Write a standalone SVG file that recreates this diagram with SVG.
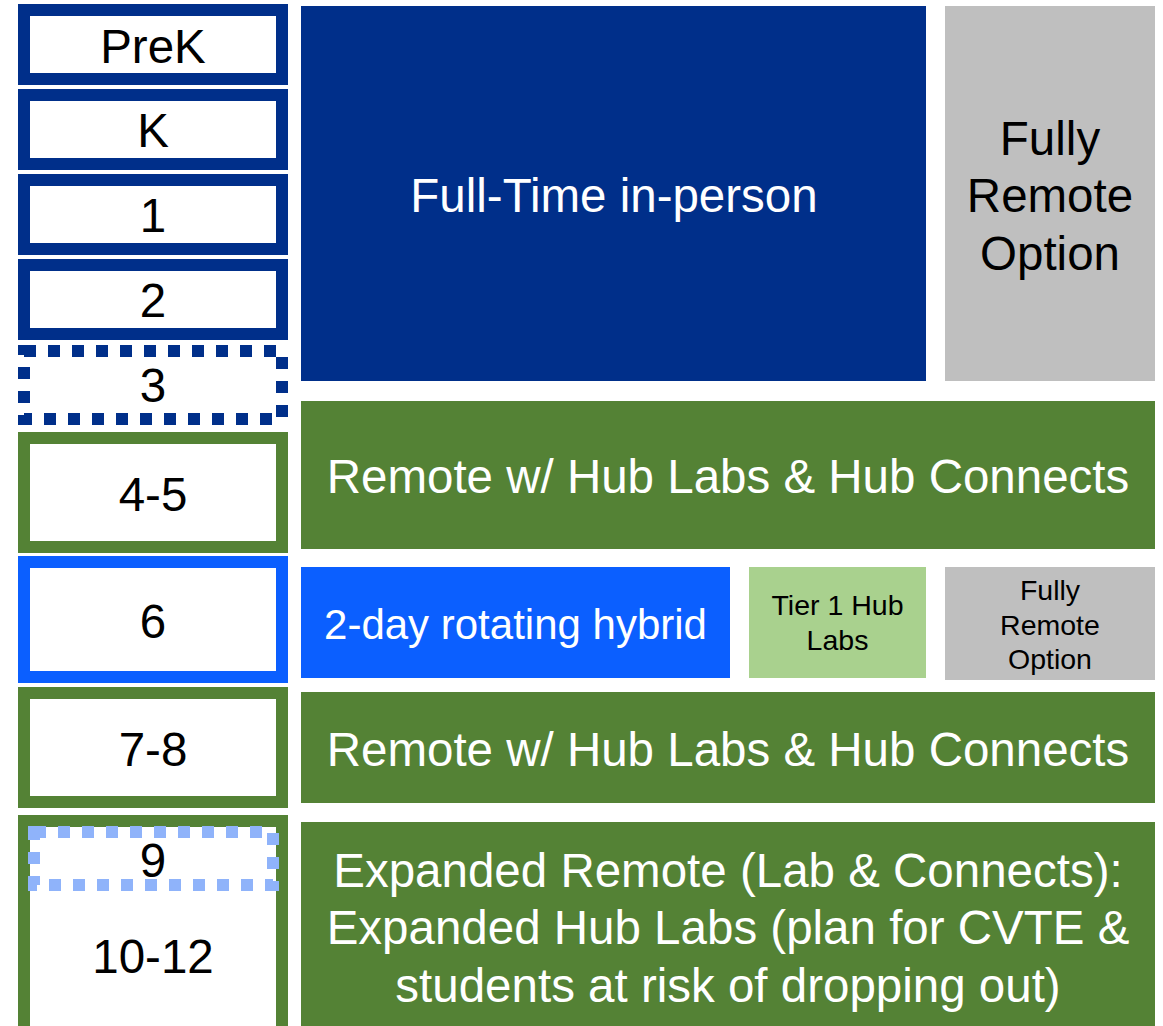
<svg xmlns="http://www.w3.org/2000/svg" width="1163" height="1026" viewBox="0 0 1163 1026">
<style>
.t{font-family:"Liberation Sans",Arial,sans-serif;text-anchor:middle}
.big{font-size:47.5px}
.mid{font-size:42px}
.sm{font-size:28.5px}
.w{fill:#ffffff}
.k{fill:#000000}
.gb{fill:#ffffff;stroke-width:12}
.navy{stroke:#002F8A}
.green{stroke:#548235}
.bright{stroke:#0B5FFF}
.dot{fill:none;stroke-width:12;stroke-dasharray:12 12}
</style>
<rect width="1163" height="1026" fill="#ffffff"/>
<g id="grade-prek"><rect class="gb navy" x="24" y="10" width="258" height="69"/><text class="t big k" x="153" y="63">PreK</text></g>
<g id="grade-k"><rect class="gb navy" x="24" y="95" width="258" height="69"/><text class="t big k" x="153" y="147">K</text></g>
<g id="grade-1"><rect class="gb navy" x="24" y="180" width="258" height="69"/><text class="t big k" x="153" y="232">1</text></g>
<g id="grade-2"><rect class="gb navy" x="24" y="265" width="258" height="69"/><text class="t big k" x="153" y="317">2</text></g>
<g id="grade-3"><rect class="dot navy" x="24" y="351" width="258" height="68" stroke-dashoffset="0"/><text class="t big k" x="153" y="402">3</text></g>
<g id="grade-4-5"><rect class="gb green" x="24" y="438" width="258" height="109"/><text class="t big k" x="153" y="511">4-5</text></g>
<g id="grade-6"><rect class="gb bright" x="24" y="562" width="258" height="115"/><text class="t big k" x="153" y="638">6</text></g>
<g id="grade-7-8"><rect class="gb green" x="24" y="693" width="258" height="109"/><text class="t big k" x="153" y="766">7-8</text></g>
<g id="grade-9-12"><rect class="gb green" x="24" y="821" width="258" height="220"/><text class="t big k" x="153" y="973">10-12</text></g>
<g id="grade-9"><rect class="dot" stroke="#8FB3FA" x="34" y="832" width="239" height="53"/><text class="t big k" x="153" y="877">9</text></g>
<g id="full-time"><rect x="301" y="6" width="625" height="375" fill="#002F8A"/><text class="t big w" x="614" y="212">Full-Time in-person</text></g>
<g id="remote-option-top"><rect x="945" y="6" width="210" height="375" fill="#BFBFBF"/><text class="t big k" x="1050" y="155">Fully</text><text class="t big k" x="1050" y="212">Remote</text><text class="t big k" x="1050" y="270">Option</text></g>
<g id="remote-hub-1"><rect x="301" y="401" width="854" height="148" fill="#548235"/><text class="t big w" x="728" y="493">Remote w/ Hub Labs &amp; Hub Connects</text></g>
<g id="hybrid"><rect x="301" y="567" width="429" height="111" fill="#0B5FFF"/><text class="t mid w" x="515.5" y="639">2-day rotating hybrid</text></g>
<g id="tier1"><rect x="749" y="567" width="177" height="111" fill="#A9D18E"/><text class="t sm k" x="837.5" y="615">Tier 1 Hub</text><text class="t sm k" x="837.5" y="650">Labs</text></g>
<g id="remote-option-6"><rect x="945" y="567" width="210" height="113" fill="#BFBFBF"/><text class="t sm k" x="1050" y="600">Fully</text><text class="t sm k" x="1050" y="635">Remote</text><text class="t sm k" x="1050" y="669">Option</text></g>
<g id="remote-hub-2"><rect x="301" y="692" width="854" height="111" fill="#548235"/><text class="t big w" x="728" y="766">Remote w/ Hub Labs &amp; Hub Connects</text></g>
<g id="expanded"><rect x="301" y="822" width="854" height="204" fill="#548235"/><text class="t big w" x="728" y="887">Expanded Remote (Lab &amp; Connects):</text><text class="t big w" x="728" y="944">Expanded Hub Labs (plan for CVTE &amp;</text><text class="t big w" x="728" y="1002">students at risk of dropping out)</text></g>
<g id="connectors"></g>
</svg>
